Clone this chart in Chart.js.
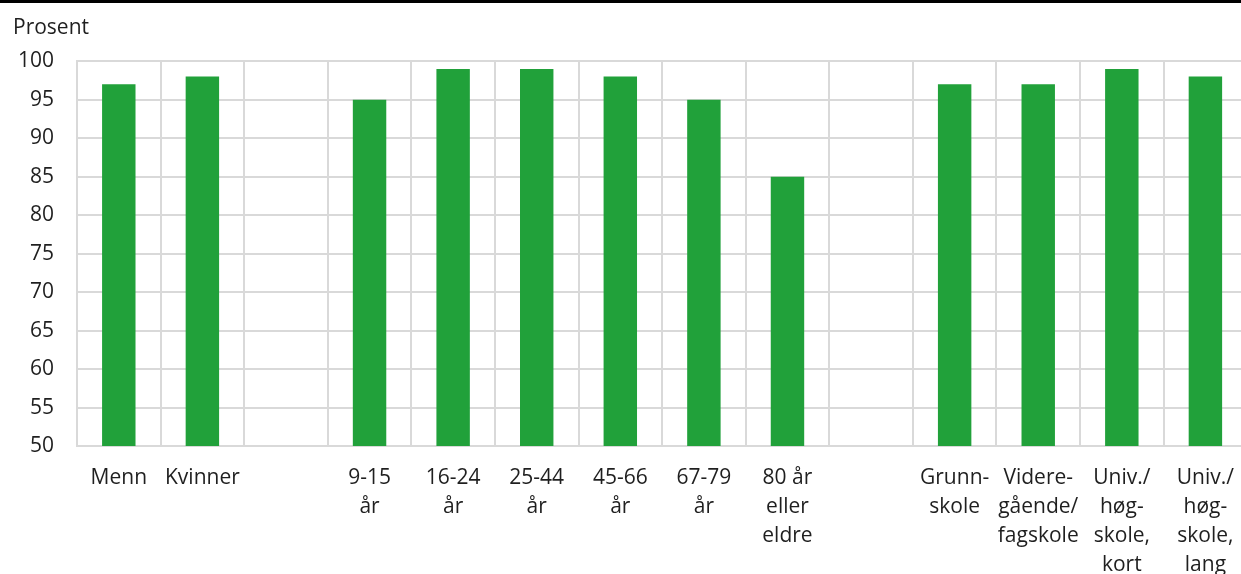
<!DOCTYPE html>
<html>
<head>
<meta charset="utf-8">
<script src="https://cdn.jsdelivr.net/npm/chart.js@4"></script>
<style>
    html, body { margin: 0; padding: 0; background: #fff; overflow: hidden; }
    body { width: 1241px; height: 574px; }
    .topline { height: 3px; background: #000; width: 1241px; }
    .wrap { width: 1252px; height: 571px; }
</style>
</head>
<body>
<div class="topline"></div>
<div class="wrap"><canvas id="chart"></canvas></div>
<script>
// --- Data ---
const categories = [
    'Menn', 'Kvinner', '',
    ['9-15', 'år'], ['16-24', 'år'], ['25-44', 'år'], ['45-66', 'år'], ['67-79', 'år'],
    ['80 år', 'eller', 'eldre'], '',
    ['Grunn-', 'skole'], ['Videre-', 'gående/', 'fagskole'],
    ['Univ./', 'høg-', 'skole,', 'kort'], ['Univ./', 'høg-', 'skole,', 'lang']
];
const values = [97, 98, null, 95, 99, 99, 98, 95, 85, null, 97, 97, 99, 98];
const yMin = 50;
const yMax = 100;
const yStep = 5;
const yTitle = 'Prosent';

const GREEN = '#21a13a';
const GRID = '#d9d9d9';
const TEXT = '#1f1f1f';
const FONT = "'Open Sans', 'Noto Sans', sans-serif";

new Chart(document.getElementById('chart'), {
    type: 'bar',
    data: {
        labels: categories,
        datasets: [{
            data: values,
            backgroundColor: GREEN,
            borderWidth: 0,
            barPercentage: 0.4,
            categoryPercentage: 1.0,
        }]
    },
    options: {
        responsive: true,
        maintainAspectRatio: false,
        animation: false,
        layout: { padding: { left: 13, top: 0, right: 0, bottom: 0 } },
        plugins: {
            legend: { display: false },
            tooltip: { enabled: false },
            title: {
                display: true,
                text: yTitle,
                align: 'start',
                color: TEXT,
                font: { family: FONT, size: 21, weight: 'normal' },
                padding: { top: 12, bottom: 21 },
            }
        },
        scales: {
            x: {
                grid: { color: GRID, lineWidth: 2, drawTicks: false, offset: true },
                border: { color: GRID, width: 2 },
                ticks: {
                    color: TEXT,
                    padding: 18,
                    maxRotation: 0,
                    autoSkip: false,
                    font: { family: FONT, size: 21, lineHeight: 1.37 },
                },
                afterFit: s => { s.height = 128; }
            },
            y: {
                min: yMin,
                max: yMax,
                grid: { color: GRID, lineWidth: 2, drawTicks: false },
                border: { color: GRID, width: 2 },
                ticks: {
                    stepSize: yStep,
                    color: TEXT,
                    padding: 23,
                    font: { family: FONT, size: 21 },
                },
                afterFit: s => { s.width = 64; }
            }
        }
    }
});
</script>
</body>
</html>
